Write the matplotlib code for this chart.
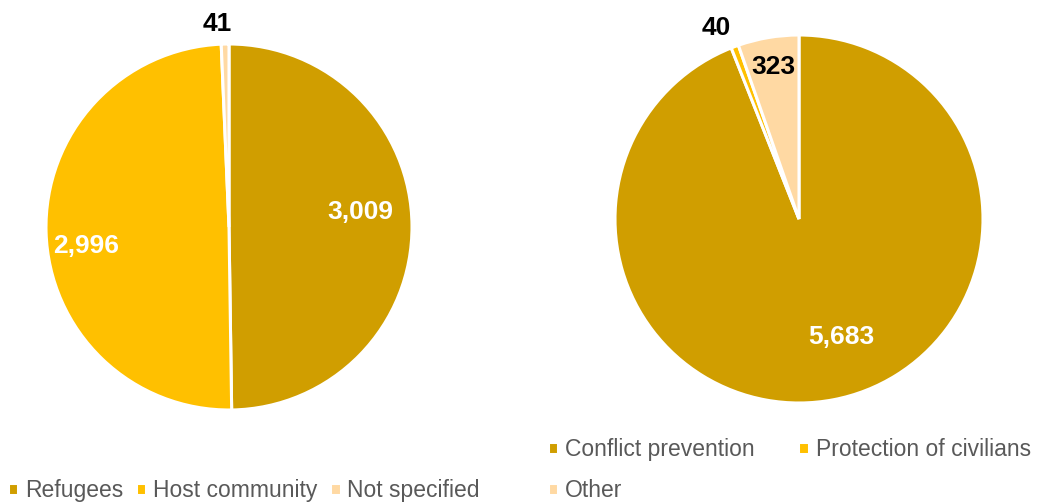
import matplotlib
matplotlib.use("Agg")
import matplotlib.pyplot as plt
import numpy as np

plt.rcParams['font.family'] = ['Liberation Sans', 'DejaVu Sans']

left_labels = ["Refugees", "Host community", "Not specified"]
left_values = [3009, 2996, 41]
right_labels = ["Conflict prevention", "Protection of civilians", "Other"]
right_values = [5683, 40, 323]
colors = ["#D09E00", "#FFC000", "#FFD9A3"]

W, H = 1042, 503
fig = plt.figure(figsize=(W / 100, H / 100), dpi=100)

def px_axes(x0, y0, x1, y1):
    return fig.add_axes([x0 / W, 1 - y1 / H, (x1 - x0) / W, (y1 - y0) / H])

axL = px_axes(46, 44, 412, 410)
axR = px_axes(615, 35, 983, 403)

def draw(ax, values, label_spec):
    wedges, _ = ax.pie(values, colors=colors, startangle=90, counterclock=False,
                       radius=1.0, wedgeprops=dict(edgecolor="white", linewidth=2.2))
    ax.set_xlim(-1.0, 1.0)
    ax.set_ylim(-1.0, 1.0)
    ax.set_aspect("equal")
    ax.axis("off")
    for w, v, (r, dang, col) in zip(wedges, values, label_spec):
        mid = np.deg2rad((w.theta1 + w.theta2) / 2 + dang)
        ax.text(r * np.cos(mid), r * np.sin(mid), f"{v:,}", ha="center", va="center",
                fontsize=19, fontweight="bold", color=col, clip_on=False)
    return wedges

wl = draw(axL, left_values, [(0.72, 6, "white"), (0.79, 6, "white"), (1.11, 2, "black")])
wr = draw(axR, right_values, [(0.68, 9, "white"), (1.13, 3, "black"), (0.84, 0, "black")])

legkw = dict(frameon=False, fontsize=16.5, handlelength=0.45, handleheight=0.45,
             handletextpad=0.3, labelcolor="#595959", borderaxespad=0, borderpad=0)
fig.legend(wl, left_labels, loc="center left", bbox_to_anchor=(8 / W, 1 - 491 / H),
           ncol=3, columnspacing=0.55, **legkw)
# ncol=2 fills column-wise, so order handles to read row-wise
order = [0, 2, 1]
fig.legend([wr[i] for i in order], [right_labels[i] for i in order], loc="upper left",
           bbox_to_anchor=(548 / W, 1 - 438 / H),
           ncol=2, columnspacing=1.9, labelspacing=0.78, **legkw)

fig.savefig("out.png", dpi=100)
